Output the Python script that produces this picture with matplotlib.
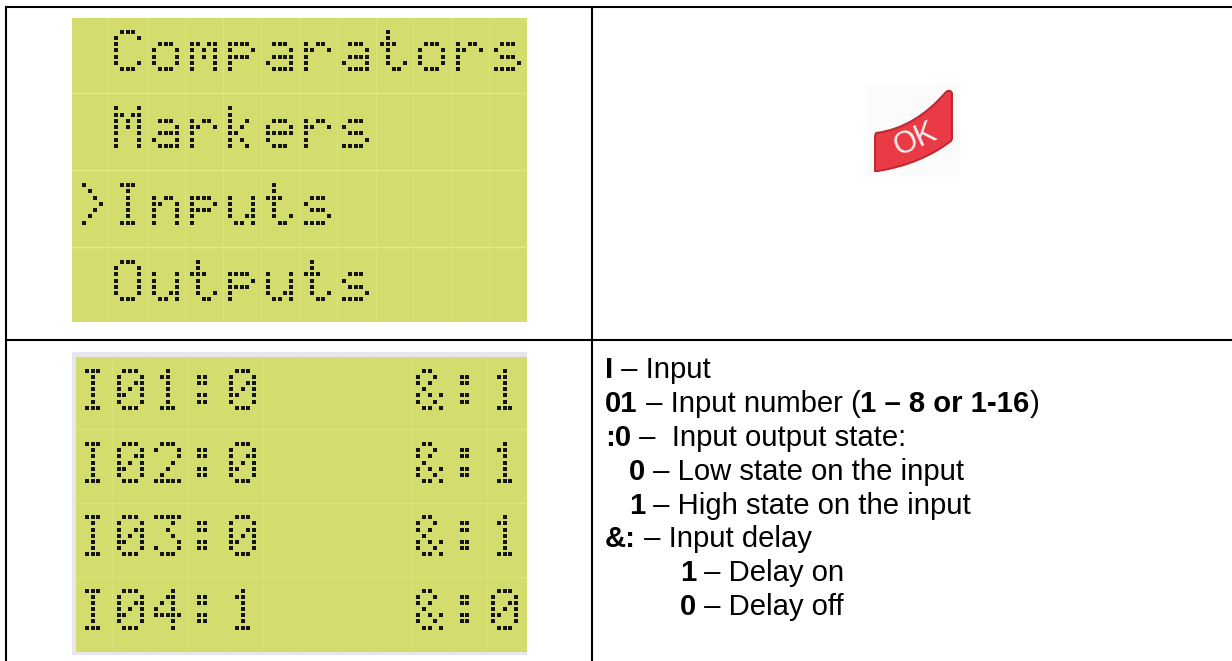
#!/usr/bin/env python3
"""
Redraws the menu/input table: two dot matrix LCD screens, the OK key and the legend text
"""

import matplotlib
matplotlib.use("Agg")
import matplotlib.pyplot as plt
from matplotlib.patches import PathPatch, Rectangle
from matplotlib.path import Path

# screen contents
menu_lines = [" Comparators", " Markers", ">Inputs", " Outputs"]
input_lines = ["I01:0    &:1", "I02:0    &:1", "I03:0    &:1", "I04:1    &:0"]

# legend lines, as (text, is bold) runs
legend_lines = [
    (605, 378.3, [("I", True), (" \u2013 Input", False)]),
    (605, 412.3, [("01", True), (" \u2013 Input number (", False), ("1 \u2013 8 or 1-16", True), (")", False)]),
    (605, 446.0, [(":0", True), (" \u2013  Input output state:", False)]),
    (629, 480.0, [("0", True), (" \u2013 Low state on the input", False)]),
    (629, 514.0, [("1", True), (" \u2013 High state on the input", False)]),
    (605, 547.3, [("&:", True), (" \u2013 Input delay", False)]),
    (680, 581.3, [("1", True), (" \u2013 Delay on", False)]),
    (680, 615.0, [("0", True), (" \u2013 Delay off", False)]),
]

# 5x7 character bitmaps
GLYPHS = {
    "C": "01110 10001 10000 10000 10000 10001 01110",
    "M": "10001 11011 10101 10101 10001 10001 10001",
    "I": "01110 00100 00100 00100 00100 00100 01110",
    "O": "01110 10001 10001 10001 10001 10001 01110",
    "o": "00000 00000 01110 10001 10001 10001 01110",
    "m": "00000 00000 11011 10101 10101 10001 10001",
    "p": "00000 00000 11110 10001 11110 10000 10000",
    "a": "00000 00000 01110 00001 01111 10001 01111",
    "r": "00000 00000 10110 11001 10000 10000 10000",
    "t": "01000 01000 11100 01000 01000 01001 00110",
    "s": "00000 00000 01110 10000 01110 00001 11110",
    "k": "10000 10000 10010 10100 11000 10100 10010",
    "e": "00000 00000 01110 10001 11111 10000 01110",
    "n": "00000 00000 10110 11001 10001 10001 10001",
    "u": "00000 00000 10001 10001 10001 10011 01101",
    ">": "01000 00100 00010 00001 00010 00100 01000",
    ":": "00000 01100 01100 00000 01100 01100 00000",
    "&": "01100 10010 10100 01000 10101 10010 01101",
    "0": "01110 10001 10011 10101 11001 10001 01110",
    "1": "00100 01100 00100 00100 00100 00100 01110",
    "2": "01110 10001 00001 00010 00100 01000 11111",
    "3": "11111 00010 00100 00010 00001 10001 01110",
    "4": "00010 00110 01010 10010 11111 00010 00010",
}

LCD_COLOR = "#d3dd6d"
FONT = "Liberation Sans"


def draw_lcd(ax, lines, box, x_lines, y_lines, grid_color, origin, pitch, dot):
    """Draw one LCD panel: background, cell lines and the dot matrix text"""
    x0, y0, x1, y1 = box
    ax.add_patch(Rectangle((x0, y0), x1 - x0, y1 - y0, color=LCD_COLOR, lw=0, zorder=1))
    ax.vlines(x_lines, y0, y1, color=grid_color[0], lw=0.8, zorder=2)
    ax.hlines(y_lines, x0, x1, color=grid_color[1], lw=1.0, zorder=2)

    xs, ys = [], []
    for r, line in enumerate(lines):
        for c, ch in enumerate(line):
            if ch == " ":
                continue
            for j, row in enumerate(GLYPHS[ch].split()):
                for i, bit in enumerate(row):
                    if bit == "1":
                        xs.append(origin[0] + c * pitch[0] + i * dot[0])
                        ys.append(origin[1] + r * pitch[1] + j * dot[1])
    ax.scatter(xs, ys, marker="s", s=6.2, color="#141414", linewidths=0, zorder=3)


def text_width(ax, text, weight):
    """Advance width of a run, padded so that its edge spaces are counted"""
    renderer = ax.figure.canvas.get_renderer()
    probe = ax.text(0, 0, "x" + text + "x", family=FONT, fontsize=21.1, weight=weight)
    full = probe.get_window_extent(renderer).width
    probe.set_text("xx")
    empty = probe.get_window_extent(renderer).width
    probe.remove()
    return full - empty


def draw_legend(ax):
    """Write the legend text, switching between bold and regular runs"""
    for x, y, runs in legend_lines:
        for text, bold in runs:
            weight = "bold" if bold else "normal"
            ax.text(x, y, text, family=FONT, fontsize=21.1, weight=weight,
                    color="black", va="baseline", ha="left", zorder=3)
            x += text_width(ax, text, weight)


def draw_ok_key(ax):
    """Draw the curved red OK key"""
    ax.add_patch(Rectangle((867, 85), 93, 92, color="#fbfbfb", lw=0, zorder=1))
    verts = [(875, 136), (876, 133), (915, 128), (946, 92), (950, 89), (952, 93),
             (952, 139), (951, 141), (921, 164), (878, 171), (875, 171), (875, 136)]
    codes = [Path.MOVETO, Path.LINETO, Path.CURVE3, Path.CURVE3, Path.CURVE3, Path.CURVE3,
             Path.LINETO, Path.LINETO, Path.CURVE3, Path.CURVE3, Path.LINETO, Path.CLOSEPOLY]
    ax.add_patch(PathPatch(Path(verts, codes), facecolor="#ea3a45", edgecolor="#bf2630",
                           lw=1.4, zorder=2))
    ax.text(915, 140, "OK", family=FONT, fontsize=22, color="#f4f0f0", rotation=24,
            ha="center", va="center", rotation_mode="anchor", zorder=3)


def main():
    fig = plt.figure(figsize=(12.32, 6.61), dpi=100, facecolor="white")
    ax = fig.add_axes([0, 0, 1, 1])
    ax.set_xlim(0, 1232)
    ax.set_ylim(661, 0)
    ax.axis("off")

    # table rules
    rule = dict(color="black", lw=1.5, solid_capstyle="butt", zorder=4)
    ax.plot([5, 1232], [7, 7], **rule)
    ax.plot([5, 1232], [340, 340], **rule)
    ax.plot([6, 6], [6, 661], **rule)
    ax.plot([592, 592], [6, 661], **rule)

    draw_lcd(ax, menu_lines, (72, 18, 527, 322),
             [108.3, 146.7, 184.7, 222.7, 261, 299, 337, 375.6, 412.7, 451.7, 489.3],
             [93.3, 170, 246.7], ("#dbe57c", "#e3ea86"),
             (78.3, 31.7), (38.0, 76.7), (5.6, 6.25))

    # the second panel has a pale frame round it
    ax.add_patch(Rectangle((72, 352), 455, 303, color="#e6e6ec", lw=0, zorder=0))
    draw_lcd(ax, input_lines, (76, 357, 527, 652),
             [112, 150, 188, 225, 263, 302, 337, 374, 411.7, 449.3, 486.7],
             [429.3, 503.3, 577], ("#d9e276", "#dce57a"),
             (81.3, 370.7), (37.45, 73.3), (5.7, 6.17))

    draw_ok_key(ax)
    fig.canvas.draw()
    draw_legend(ax)

    fig.savefig("out.png", dpi=100)
    plt.close(fig)


if __name__ == "__main__":
    main()
